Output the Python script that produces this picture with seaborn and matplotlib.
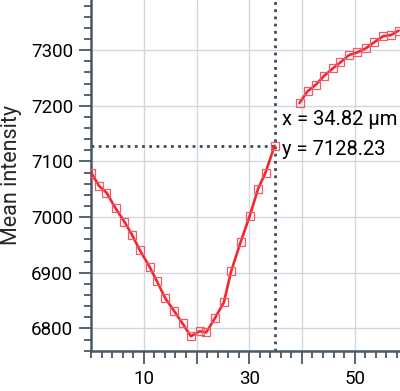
import numpy as np
import pandas as pd
import matplotlib
matplotlib.use('Agg')
import matplotlib.pyplot as plt
import seaborn as sns
from matplotlib.ticker import MultipleLocator

# profile data (two branches, gap between)
x_left = [0.0, 1.51, 2.91, 4.63, 6.30, 7.77, 9.22, 11.08, 12.42, 14.09, 15.71, 17.34,
          18.93, 20.59, 21.86, 23.46, 25.19, 26.58, 28.36, 30.09, 31.69, 33.09, 34.82]
y_left = [7080, 7056, 7044, 7016, 6992, 6968, 6941, 6911, 6886, 6854, 6832, 6809,
          6786, 6795, 6793, 6818, 6847, 6903, 6955, 7002, 7051, 7080, 7128.23]
x_right = [39.54, 41.07, 42.66, 44.25, 45.86, 47.31, 48.92, 50.51, 52.10, 53.70, 55.43, 56.88, 58.35]
y_right = [7205, 7226, 7238, 7254, 7267, 7278, 7291, 7296, 7303, 7314, 7325, 7327, 7335]

cursor_x = 34.82
cursor_y = 7128.23
label_lines = ['x = 34.82 µm', 'y = 7128.23']
x_ticks = [10, 20, 30, 40, 50]
x_ticklabels = ['10', '', '30', '', '50']

sns.set_style('white')
plt.rcParams['font.family'] = ['Roboto', 'DejaVu Sans']

line_color = '#f0282d'
axis_color = '#4a5866'
grid_color = '#cdd8e0'

fig = plt.figure(figsize=(4.0, 3.91), dpi=100)
ax = fig.add_axes([0.2278, 0.103, 0.78, 0.897])

left = pd.DataFrame({'x': x_left, 'y': y_left})
right = pd.DataFrame({'x': x_right, 'y': y_right})
for df in (left, right):
    sns.lineplot(data=df, x='x', y='y', ax=ax, color=line_color, linewidth=1.9,
                 marker='s', markersize=5.5, markerfacecolor='none',
                 markeredgecolor='#f05a6a', markeredgewidth=0.9, zorder=3)

# cursor lines
ax.axvline(cursor_x, color='#3d4b58', linestyle=(0, (1, 1.6)), linewidth=2.0, zorder=2)
ax.plot([0, cursor_x], [cursor_y, cursor_y], color='#3d4b58',
        linestyle=(0, (1, 1.6)), linewidth=2.0, zorder=2)
ax.text(36.3, 7176, label_lines[0], fontsize=14.5, va='center', ha='left', color='black')
ax.text(36.3, 7122, label_lines[1], fontsize=14.5, va='center', ha='left', color='black')

ax.set_xlim(0, 59.2)
ax.set_ylim(6760, 7390)

ax.set_xticks(x_ticks, x_ticklabels)
ax.xaxis.set_minor_locator(MultipleLocator(2))
ax.yaxis.set_major_locator(MultipleLocator(100))
ax.yaxis.set_minor_locator(MultipleLocator(20))

for v in x_ticks:
    ax.axvline(v, color=grid_color, linewidth=1.0, zorder=0)
for v in [6800, 6900, 7000, 7100, 7200, 7300]:
    ax.axhline(v, color=grid_color, linewidth=1.0, zorder=0)

ax.tick_params(which='both', direction='out', width=1.3, color=axis_color,
               labelsize=13.5, labelcolor='black', left=True, bottom=True)
ax.tick_params(which='major', length=9)
ax.tick_params(which='minor', length=5)
ax.tick_params(axis='y', which='major', pad=4)
ax.tick_params(axis='x', which='major', pad=5)

for side in ['top', 'right']:
    ax.spines[side].set_visible(False)
for side in ['left', 'bottom']:
    ax.spines[side].set_color(axis_color)
    ax.spines[side].set_linewidth(1.8)

ax.set_xlabel('')
ax.set_ylabel('Mean intensity', fontsize=15.5, labelpad=6)

fig.savefig('out.png', dpi=100)
